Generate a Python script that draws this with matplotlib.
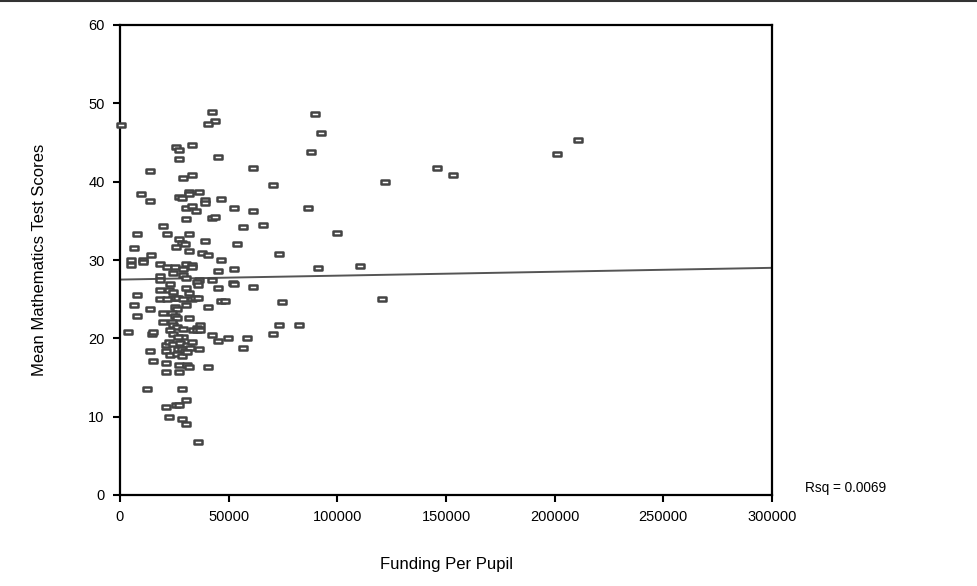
import numpy as np
import matplotlib
matplotlib.use("Agg")
import matplotlib.pyplot as plt
from matplotlib.path import Path
from matplotlib.lines import Line2D

# Funding per pupil (thousands) and mean mathematics scores
funding_k = [
    0.6, 42.2, 43.7, 40.5, 25.8, 27.3, 33.3, 27.3, 45.1,
    13.8, 28.8, 33.3, 9.5, 13.8, 27.1, 28.4, 31.7, 31.7, 36.2, 39.1, 39.1, 46.6,
    30.4, 33.3, 34.8, 52.4, 30.4, 42.2, 43.7,
    19.6, 8.0, 21.5, 31.7, 27.3, 28.4, 29.9, 25.8, 39.3, 53.7,
    6.4, 14.1, 31.7, 37.6, 40.6,
    5.2, 5.2, 10.7, 10.7, 18.4, 21.5, 25.5, 29.1, 30.4, 33.3, 33.3, 46.6, 45.1,
    24.2, 18.4, 18.4, 29.1, 30.4, 42.2, 36.2, 35.3, 36.0, 52.1, 23.0, 44.9, 18.4, 22.7, 24.2, 30.4, 31.9,
    8.0, 24.2, 25.8, 26.8, 18.4, 21.5, 28.8, 33.0, 34.5, 36.0, 46.5, 48.3,
    6.4, 30.4, 25.2, 26.1, 13.8, 40.6,
    8.0, 19.6, 23.8, 25.3, 26.1, 31.9, 19.6, 23.8, 24.5, 26.1, 36.8, 35.3,
    3.8, 14.6, 15.3, 23.0, 24.5, 29.1, 33.4, 35.3, 36.8, 42.2, 49.8, 28.8, 26.8,
    44.9, 21.2, 22.7, 24.5, 27.6, 30.7, 33.0, 36.5,
    26.8, 28.4, 29.9, 32.2, 21.2, 13.8,
    23.0, 26.1, 28.4, 30.7,
    15.3, 21.2, 27.3, 30.7, 31.9, 40.6, 21.2, 27.3,
    12.3, 28.7, 30.4, 25.8, 27.3, 21.2, 22.7, 28.7, 30.4, 36.0,
    89.6, 92.6, 88.0, 61.3, 70.2, 61.3, 86.5, 56.7, 65.6, 99.7, 73.1, 52.4, 90.9, 110.4,
    52.4, 61.3, 74.7, 73.1, 82.2, 70.2, 58.3, 56.7,
    121.9, 120.5, 145.8, 153.2, 201.0, 210.7,
]
math_scores = [
    47.2, 48.9, 47.7, 47.4, 44.4, 44.1, 44.7, 42.9, 43.2,
    41.4, 40.5, 40.8, 38.4, 37.5, 38.1, 37.9, 38.7, 38.4, 38.7, 37.6, 37.3, 37.8,
    36.6, 36.9, 36.3, 36.6, 35.2, 35.3, 35.5,
    34.3, 33.3, 33.3, 33.3, 32.7, 32.2, 32.1, 31.6, 32.4, 32.1,
    31.5, 30.7, 31.2, 30.9, 30.7,
    30.0, 29.4, 30.0, 29.7, 29.5, 29.15, 29.15, 28.9, 29.5, 29.3, 29.1, 30.0, 28.55,
    28.3, 28.0, 27.45, 28.1, 27.7, 27.4, 27.4, 27.2, 26.8, 27.1, 27.0, 26.4, 26.2, 26.2, 25.95, 26.4, 25.8,
    25.5, 25.2, 25.2, 25.1, 25.0, 25.0, 25.0, 25.0, 25.1, 25.2, 24.8, 24.8,
    24.3, 24.3, 24.0, 23.8, 23.7, 24.0,
    22.85, 23.2, 23.2, 22.85, 22.55, 22.55, 22.05, 22.1, 21.7, 21.5, 21.7, 21.3,
    20.8, 20.55, 20.8, 21.1, 20.6, 21.15, 21.1, 21.1, 21.1, 20.4, 20.0, 20.2, 20.2,
    19.6, 19.1, 19.5, 19.3, 19.4, 19.15, 19.5, 18.7,
    18.7, 18.6, 18.4, 18.8, 18.4, 18.4,
    17.9, 18.0, 17.8, 18.2,
    17.15, 16.9, 16.6, 16.6, 16.3, 16.3, 15.7, 15.7,
    13.5, 13.5, 12.1, 11.5, 11.5, 11.2, 10.0, 9.7, 9.1, 6.8,
    48.6, 46.2, 43.8, 41.7, 39.6, 36.3, 36.6, 34.25, 34.5, 33.4, 30.8, 28.8, 29.0, 29.2,
    27.0, 26.5, 24.7, 21.7, 21.7, 20.5, 20.1, 18.8,
    39.9, 25.0, 41.7, 40.85, 43.5, 45.3,
]

fit_intercept = 27.5
fit_slope = 0.000005
rsq_text = "Rsq = 0.0069"

x_ticks = [0, 50000, 100000, 150000, 200000, 250000, 300000]
y_ticks = [0, 10, 20, 30, 40, 50, 60]

funding = np.array(funding_k) * 1000
scores = np.array(math_scores)

plt.rcParams['font.family'] = ['Liberation Sans', 'DejaVu Sans']

fig = plt.figure(figsize=(9.77, 5.86), dpi=100)
ax = fig.add_axes([120/977, 91/586, 652/977, 470/586])

rect = Path([(-1, -0.55), (1, -0.55), (1, 0.55), (-1, 0.55), (-1, -0.55)],
            [Path.MOVETO, Path.LINETO, Path.LINETO, Path.LINETO, Path.CLOSEPOLY])
ax.plot(funding, scores, linestyle='none', marker=rect, markersize=5.6,
        markerfacecolor='white', markeredgecolor='#444444', markeredgewidth=1.8,
        clip_on=False, zorder=3)

xx = np.array([x_ticks[0], x_ticks[-1]])
ax.plot(xx, fit_intercept + fit_slope * xx, color='#555555', linewidth=1.4, zorder=2)

ax.set_xlim(x_ticks[0], x_ticks[-1])
ax.set_ylim(y_ticks[0], y_ticks[-1])
ax.set_xticks(x_ticks)
ax.set_xticklabels([str(t) for t in x_ticks])
ax.set_yticks(y_ticks)
ax.set_yticklabels([str(t) for t in y_ticks])
for s in ax.spines.values():
    s.set_linewidth(1.6)
    s.set_color('black')
ax.tick_params(direction='out', length=5, width=1.5, labelsize=10.5, pad=6)

fig.text(40/977, 1 - 260/586, "Mean Mathematics Test Scores", rotation=90,
         ha='center', va='center', fontsize=12)
fig.text(446/977, 1 - 565/586, "Funding Per Pupil",
         ha='center', va='center', fontsize=12)
fig.text(805/977, 1 - 488/586, rsq_text, ha='left', va='center', fontsize=9.8)

fig.add_artist(Line2D([0, 1], [1 - 1/586, 1 - 1/586], color='#333333', linewidth=1.5,
                      transform=fig.transFigure))

fig.savefig("out.png", dpi=100)
